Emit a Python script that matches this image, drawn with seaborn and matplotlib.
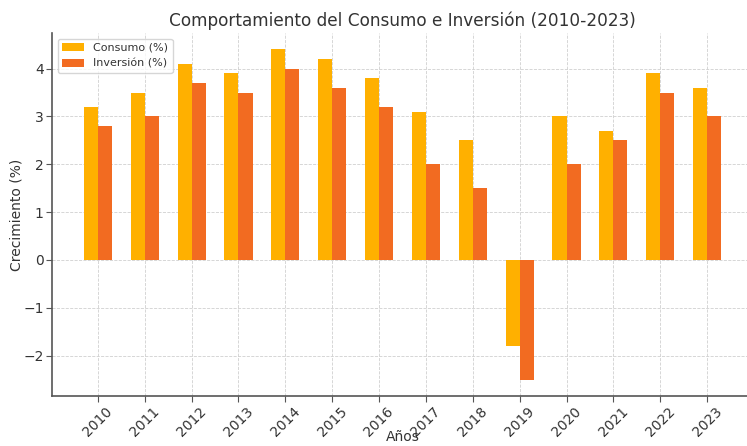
import pandas as pd
import matplotlib
matplotlib.use('Agg')
import matplotlib.pyplot as plt
import seaborn as sns

# Datos
anios = [str(a) for a in range(2010, 2024)]
consumo = [3.2, 3.5, 4.1, 3.9, 4.4, 4.2, 3.8, 3.1, 2.5, -1.8, 3.0, 2.7, 3.9, 3.6]
inversion = [2.8, 3.0, 3.7, 3.5, 4.0, 3.6, 3.2, 2.0, 1.5, -2.5, 2.0, 2.5, 3.5, 3.0]
series = ['Consumo (%)', 'Inversión (%)']
colores = ['#FFB000', '#F26B21']

df = pd.DataFrame({
    'Año': anios * 2,
    'Valor': consumo + inversion,
    'Serie': [series[0]] * len(anios) + [series[1]] * len(anios),
})

sns.set_style('whitegrid', {
    'grid.linestyle': '--',
    'grid.color': '#d0d0d0',
    'axes.edgecolor': '#555555',
    'xtick.bottom': True,
    'ytick.left': True,
})
plt.rcParams['font.family'] = ['DejaVu Sans']
plt.rcParams['text.color'] = '#333333'
plt.rcParams['axes.labelcolor'] = '#333333'
plt.rcParams['xtick.color'] = '#333333'
plt.rcParams['ytick.color'] = '#333333'

fig = plt.figure(figsize=(7.47, 4.46), dpi=100)
ax = fig.add_axes([52 / 747, 50 / 446, 701 / 747, 363 / 446])

sns.barplot(data=df, x='Año', y='Valor', hue='Serie', palette=colores,
            saturation=1, width=0.6, errorbar=None, linewidth=0, ax=ax)

ax.set_xlim(-0.98, 13.98)
ax.set_ylim(-2.845, 4.745)
ax.set_yticks(range(-2, 5))
ax.grid(True, linewidth=0.6)
ax.set_axisbelow(True)
for s in ['top', 'right']:
    ax.spines[s].set_visible(False)
for s in ['left', 'bottom']:
    ax.spines[s].set_linewidth(1.2)
ax.tick_params(axis='x', rotation=45, labelsize=10, length=4, pad=2, color='#555555')
ax.tick_params(axis='y', labelsize=10, length=4, pad=2, color='#555555')
for lbl in ax.get_xticklabels():
    lbl.set_ha('center')

ax.set_title('Comportamiento del Consumo e Inversión (2010-2023)', fontsize=12.2, pad=5)
ax.set_xlabel('Años', fontsize=10)
ax.set_ylabel('Crecimiento (%)', fontsize=10)
ax.yaxis.set_label_coords(-0.040, 0.5)
ax.xaxis.set_label_coords(0.5, -0.094)
ax.legend(loc='upper left', fontsize=8, frameon=True)

fig.savefig('out.png', dpi=100)
